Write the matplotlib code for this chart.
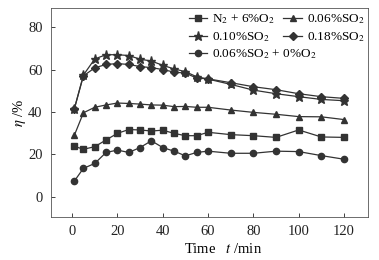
import matplotlib
matplotlib.use("Agg")
import matplotlib.pyplot as plt

plt.rcParams['font.family'] = ['Liberation Serif', 'DejaVu Serif']
plt.rcParams['mathtext.fontset'] = 'stix'

t = [1, 5, 10, 15, 20, 25, 30, 35, 40, 45, 50, 55, 60, 70, 80, 90, 100, 110, 120]

n2_o2 = [23.8, 22.4, 23.6, 26.8, 29.9, 31.7, 31.5, 31.0, 31.4, 29.9, 28.8, 28.8, 30.4, 29.3, 28.8, 28.0, 31.5, 28.2, 28.0]
so2_006 = [29.0, 39.6, 42.2, 43.3, 44.2, 44.0, 43.7, 43.3, 43.2, 42.5, 42.6, 42.2, 42.2, 40.9, 39.8, 38.9, 37.8, 37.7, 36.4]
so2_010 = [41.5, 57.4, 65.0, 67.0, 67.0, 66.6, 64.9, 64.0, 62.0, 60.3, 59.0, 56.6, 55.5, 53.0, 50.3, 48.6, 47.2, 45.9, 45.3]
so2_018 = [41.5, 57.0, 60.8, 62.4, 62.8, 62.4, 61.4, 60.9, 60.0, 58.8, 58.3, 56.0, 55.6, 53.8, 51.9, 50.5, 48.6, 47.2, 46.4]
so2_no_o2 = [7.4, 13.4, 15.7, 20.9, 22.0, 20.9, 23.2, 26.4, 23.2, 21.5, 19.3, 20.9, 21.5, 20.5, 20.5, 21.5, 21.3, 19.4, 17.7]

c = '#333333'
fig = plt.figure(figsize=(3.79, 2.6), dpi=100)
ax = fig.add_axes([0.1346, 0.165, 0.8364, 0.804])

kw = dict(color=c, lw=0.9)
l1, = ax.plot(t, n2_o2, marker='s', ms=4, label=r'N$_2$ + 6%O$_2$', **kw)
l2, = ax.plot(t, so2_006, marker='^', ms=4.8, label=r'0.06%SO$_2$', **kw)
l3, = ax.plot(t, so2_010, marker='*', ms=6.5, label=r'0.10%SO$_2$', **kw)
l4, = ax.plot(t, so2_018, marker='D', ms=3.8, label=r'0.18%SO$_2$', **kw)
l5, = ax.plot(t, so2_no_o2, marker='o', ms=4.5, label=r'0.06%SO$_2$ + 0%O$_2$', **kw)

ax.set_xlim(-9.3, 130.6)
ax.set_ylim(-9.6, 89)
ax.set_xticks([0, 20, 40, 60, 80, 100, 120])
ax.set_yticks([0, 20, 40, 60, 80])
ax.tick_params(direction='in', length=3, width=0.6, labelsize=10.5, colors='#222222', pad=6)
for s in ax.spines.values():
    s.set_linewidth(0.6)
    s.set_color('#555555')

ax.set_xlabel(r'Time   $t$ /min', fontsize=10.5)
ax.xaxis.set_label_coords(0.543, -0.12)
ax.set_ylabel(r'$\eta$ /%', fontsize=10.5, labelpad=0)

leg_kw = dict(frameon=False, fontsize=9.5, handlelength=1.4, handletextpad=0.38,
              borderpad=0, borderaxespad=0, labelspacing=0.3)
top = [l1, l3, l2, l4]
leg1 = ax.legend(top, [h.get_label() for h in top], ncol=2, loc='upper left',
                 bbox_to_anchor=(0.435, 0.978), columnspacing=0.6, **leg_kw)
ax.add_artist(leg1)
ax.legend([l5], [l5.get_label()], loc='upper left',
          bbox_to_anchor=(0.435, 0.812), **leg_kw)

fig.savefig('out.png', dpi=100)
